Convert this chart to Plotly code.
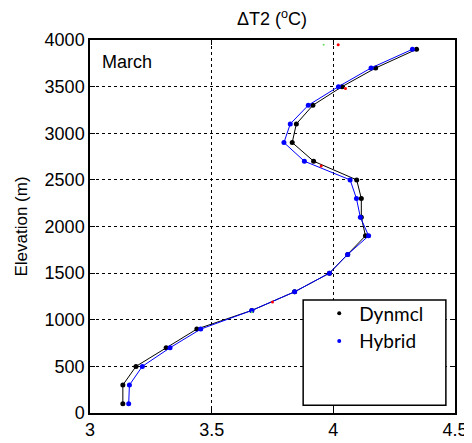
import plotly.graph_objects as go

elevation = [100, 300, 500, 700, 900, 1100, 1300, 1500, 1700, 1900, 2100,
             2300, 2500, 2700, 2900, 3100, 3300, 3500, 3700, 3900]
dynmcl = [3.135, 3.135, 3.189, 3.313, 3.439, 3.665, 3.841, 3.984, 4.059, 4.132, 4.115,
          4.115, 4.096, 3.919, 3.831, 3.848, 3.916, 4.036, 4.174, 4.342]
hybrid = [3.159, 3.162, 3.215, 3.329, 3.455, 3.665, 3.841, 3.984, 4.059, 4.145, 4.111,
          4.095, 4.069, 3.881, 3.797, 3.823, 3.897, 4.021, 4.155, 4.325]
red_x = [3.75, 3.95, 4.05, 4.02]
red_y = [1190, 2650, 3480, 3950]
green_x = [3.665, 3.96]
green_y = [1080, 3950]

x_ticks = [3, 3.5, 4, 4.5]
y_ticks = [0, 500, 1000, 1500, 2000, 2500, 3000, 3500, 4000]

fig = go.Figure()
fig.add_trace(go.Scatter(x=dynmcl, y=elevation, mode="lines+markers",
                         line=dict(color="black", width=1),
                         marker=dict(color="black", size=5), showlegend=False))
fig.add_trace(go.Scatter(x=hybrid, y=elevation, mode="lines+markers",
                         line=dict(color="#0000ff", width=1),
                         marker=dict(color="#0000ff", size=5), showlegend=False))
fig.add_trace(go.Scatter(x=red_x, y=red_y, mode="markers",
                         marker=dict(color="red", size=3), showlegend=False))
fig.add_trace(go.Scatter(x=green_x, y=green_y, mode="markers",
                         marker=dict(color="#66dd66", size=2), showlegend=False))
fig.add_trace(go.Scatter(x=[None], y=[None], mode="markers", name="Dynmcl",
                         marker=dict(color="black", size=4)))
fig.add_trace(go.Scatter(x=[None], y=[None], mode="markers", name="Hybrid",
                         marker=dict(color="#0000ff", size=4)))

axis_common = dict(showline=True, linecolor="black", linewidth=1.5, mirror="ticks",
                   ticks="inside", ticklen=5, tickcolor="black",
                   showgrid=True, gridcolor="black", gridwidth=1, griddash="dot",
                   zeroline=False, automargin=False,
                   tickfont=dict(size=18, color="black"))

fig.update_layout(
    width=464, height=435,
    margin=dict(l=82, r=17, t=32, b=30),
    paper_bgcolor="white", plot_bgcolor="white",
    font=dict(family="Liberation Sans, Arial, sans-serif", color="black"),
    title=dict(text="ΔT2 (<sup>o</sup>C)", x=0.569, xanchor="center", y=0.975,
               yanchor="middle", font=dict(size=18), automargin=False),
    xaxis=dict(range=[3, 4.5], tickvals=x_ticks, ticktext=["3", "3.5", "4", "4.5"],
               **axis_common),
    yaxis=dict(range=[0, 4000], tickvals=y_ticks,
               title=dict(text="Elevation (m)", font=dict(size=17), standoff=13),
               **axis_common),
    legend=dict(x=0.628, y=0.318, xanchor="left", yanchor="top",
                bgcolor="rgba(0,0,0,0)", borderwidth=0,
                font=dict(family="Lato, Open Sans, sans-serif", size=19),
                itemwidth=30, tracegroupgap=0),
    annotations=[dict(text="March", x=0.027, y=0.941, xref="paper", yref="paper",
                      xanchor="left", yanchor="middle", showarrow=False,
                      font=dict(size=18))],
    shapes=[dict(type="rect", xref="paper", yref="paper",
                 x0=0.584, x1=0.975, y0=0.021, y1=0.303,
                 line=dict(color="black", width=1.5), fillcolor="white", layer="above")],
)
fig.write_html("out.html")
